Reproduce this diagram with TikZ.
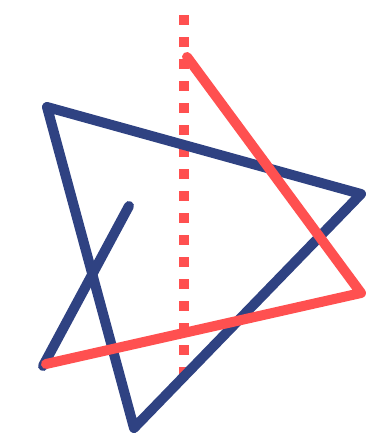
\documentclass[tikz,border=0pt]{standalone}
\usepackage{tikz}
\usepackage{xcolor}
\definecolor{knotblue}{RGB}{47,66,130}
\definecolor{knotred}{RGB}{255,80,80}

\begin{document}
\begin{tikzpicture}[x=1pt,y=-1pt,line width=10pt]
  \useasboundingbox (0,0) rectangle (366,440);
  % axis of the reflection
  \coordinate (axtop) at (184,15);
  \coordinate (axbot) at (184,377);
  \draw[knotred,line width=10pt,dash pattern=on 10pt off 12pt](axtop)--(axbot);
  % blue triangle and its tail
  \coordinate (b1) at (47,107);
  \coordinate (b2) at (361,194);
  \coordinate (b3) at (134,428);
  \coordinate (t1) at (129,206);
  \coordinate (t2) at (43,366);
  \draw[knotblue,line join=round](b1)--(b2)--(b3)--cycle;
  \draw[knotblue,line cap=round](t1)--(t2);
  % red part
  \coordinate (r1) at (187,57);
  \coordinate (r2) at (361,293);
  \coordinate (r3) at (46,364);
  \draw[knotred,line cap=round,line join=round](r1)--(r2)--(r3);
\end{tikzpicture}
\end{document}
